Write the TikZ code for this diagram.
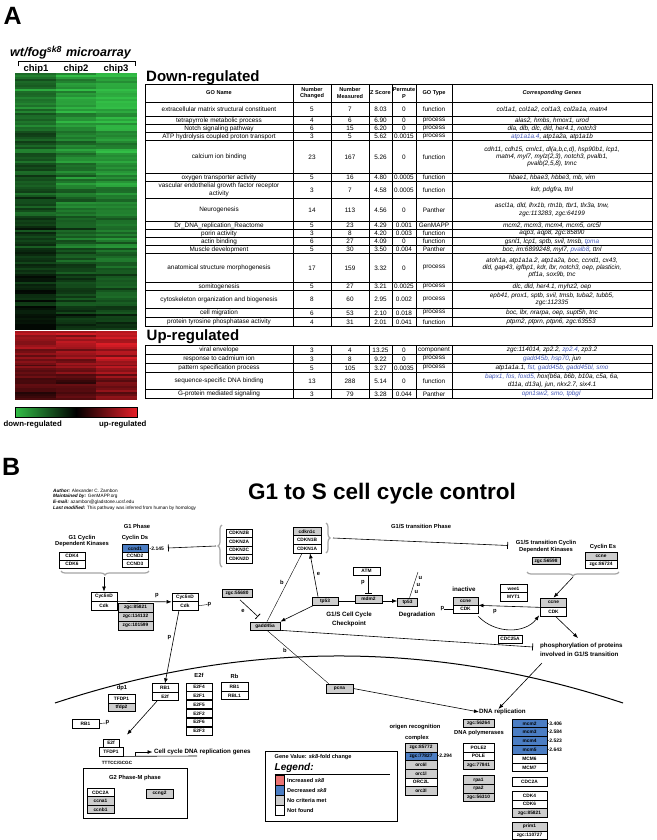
\documentclass[tikz,border=0pt]{standalone}
\usepackage{fontspec}
\setmainfont{Liberation Sans}
\usetikzlibrary{arrows.meta,decorations.pathreplacing,calc}
\definecolor{geneblue}{RGB}{70,90,185}
\definecolor{boxgray}{RGB}{205,205,205}
\definecolor{boxblue}{RGB}{75,125,195}
\definecolor{legred}{RGB}{235,115,115}
\definecolor{bracegray}{RGB}{165,165,165}
\definecolor{hgreen}{RGB}{50,190,70}
\definecolor{hred}{RGB}{230,30,40}
\tikzset{
  tcell/.style={inner sep=0pt, align=center, yshift=-0.4pt, font=\fontsize{6.4}{7.2}\selectfont},
  tgene/.style={inner sep=0pt, align=center, yshift=-0.4pt, font=\itshape\fontsize{6.4}{7.2}\selectfont},
  thead/.style={inner sep=0pt, align=center, font=\bfseries\fontsize{5.6}{6.4}\selectfont},
  tline/.style={line width=0.4pt},
  gbox/.style={draw, line width=0.7pt, inner sep=0pt, font=\bfseries\fontsize{4.8}{5}\selectfont},
  lbl/.style={inner sep=0pt, align=center, font=\bfseries\fontsize{5.8}{6.4}\selectfont},
  lblp/.style={inner sep=0pt, font=\bfseries\fontsize{5.8}{6}\selectfont},
  val/.style={inner sep=0pt, font=\bfseries\fontsize{5}{5.5}\selectfont},
  lgl/.style={inner sep=0pt, anchor=west, font=\bfseries\fontsize{5.6}{6}\selectfont},
  arr/.style={-{Latex[length=5pt,width=3.8pt]}, line width=0.6pt},
  inh/.style={-{Bar[width=7pt,line width=0.8pt]}, line width=0.6pt},
  brc/.style={decorate, decoration={brace, amplitude=4pt}, draw=bracegray, line width=1.2pt},
}
\newcommand{\genebox}[7]{\node[gbox, fill=#6, minimum width=#4pt, minimum height=#5pt] (#1) at (#2,#3) {#7};}
\begin{document}
\begin{tikzpicture}[x=1pt,y=-1pt]
\useasboundingbox (0,0) rectangle (656,840);
\fill[white] (0,0) rectangle (656,840);

% ================= PANEL A =================
\node[font=\bfseries\fontsize{25}{25}\selectfont, anchor=base west, inner sep=0] (labA) at (3.5,25) {A};
\node[font=\bfseries\itshape\fontsize{12.5}{13}\selectfont, anchor=base west, inner sep=0] (mtitle) at (10,56.5) {wt/fog\textsuperscript{sk8}\hspace{4pt}microarray};
\draw[line width=0.8pt] (18,66.5) -- (18,61.5) -- (135,61.5) -- (135,66.5);
\node[font=\bfseries\fontsize{9.5}{10}\selectfont, anchor=base, inner sep=0] (chip1) at (36,72) {chip1};
\node[font=\bfseries\fontsize{9.5}{10}\selectfont, anchor=base, inner sep=0] (chip2) at (76,72) {chip2};
\node[font=\bfseries\fontsize{9.5}{10}\selectfont, anchor=base, inner sep=0] (chip3) at (116,72) {chip3};

% heatmap green part
\pgfmathsetseed{1234}
\foreach \i in {0,...,127}{
  \pgfmathsetmacro{\hya}{73+\i*2.0078}
  \pgfmathsetmacro{\hyb}{\hya+2.3}
  \pgfmathsetmacro{\hbase}{0.92-0.6*\i/127+0.3*(rnd-0.5)}
  \pgfmathsetmacro{\hmA}{max(4,min(100,100*(\hbase-0.25+0.25*(rnd-0.5))))}
  \pgfmathsetmacro{\hmB}{max(4,min(100,100*(\hbase-0.05+0.25*(rnd-0.5))))}
  \pgfmathsetmacro{\hmC}{max(4,min(100,100*(\hbase+0.05+0.25*(rnd-0.5))))}
  \fill[hgreen!\hmA!black] (15,\hya) rectangle (55.5,\hyb);
  \fill[hgreen!\hmB!black] (55.5,\hya) rectangle (96,\hyb);
  \fill[hgreen!\hmC!black] (96,\hya) rectangle (136.5,\hyb);
}
% heatmap red part
\foreach \i in {0,...,34}{
  \pgfmathsetmacro{\hya}{331+\i*1.9714}
  \pgfmathsetmacro{\hyb}{min(\hya+2.3,400)}
  \pgfmathsetmacro{\hbase}{0.85-0.55*\i/34+0.3*(rnd-0.5)}
  \pgfmathsetmacro{\hmA}{max(4,min(100,100*(\hbase-0.1+0.25*(rnd-0.5))))}
  \pgfmathsetmacro{\hmB}{max(4,min(100,100*(\hbase-0.05+0.25*(rnd-0.5))))}
  \pgfmathsetmacro{\hmC}{max(4,min(100,100*(\hbase+0.08+0.25*(rnd-0.5))))}
  \fill[hred!\hmA!black] (15,\hya) rectangle (55.5,\hyb);
  \fill[hred!\hmB!black] (55.5,\hya) rectangle (96,\hyb);
  \fill[hred!\hmC!black] (96,\hya) rectangle (136.5,\hyb);
}
% colour bar
\shade[left color=hgreen, right color=black] (15,407) rectangle (76,417);
\shade[left color=black, right color=hred] (76,407) rectangle (137,417);
\draw[line width=0.6pt] (15,407) rectangle (137,417);
\node[font=\bfseries\fontsize{7.8}{8}\selectfont, anchor=base west, inner sep=0] (downlab) at (3.5,426.5) {down-regulated};
\node[font=\bfseries\fontsize{7.8}{8}\selectfont, anchor=base west, inner sep=0] (uplab) at (99,426.5) {up-regulated};

% ---- Down-regulated table ----
\node[font=\bfseries\fontsize{15}{15}\selectfont, anchor=base west, inner sep=0] (downhead) at (146,81.5) {Down-regulated};
\node[thead] (hgo) at (219,93) {GO Name};
\node[thead] (hnc) at (312,93) {Number\\Changed};
\node[thead] (hnm) at (350,93) {Number\\Measured};
\node[thead] (hz) at (380.5,93) {Z Score};
\node[thead] (hp) at (404,93) {Permute\\P};
\node[thead] (hty) at (434,93) {GO Type};
\node[thead, font=\bfseries\itshape\fontsize{5.6}{6.4}\selectfont] (hgn) at (552,93) {Corresponding Genes};
\draw[tline] (145,102) -- (652,102);
\foreach \ya/\yb/\go/\nc/\nm/\zs/\pp/\ty/\gn [count=\k] in {
102/116/{extracellular matrix structural constituent}/5/7/8.03/0/function/{col1a1, col1a2, col1a3, col2a1a, matn4},
116/124/{tetrapyrrole metabolic process}/4/6/6.90/0/process/{alas2, hmbs, hmox1, urod},
124/132/{Notch signaling pathway}/6/15/6.20/0/process/{dla, dlb, dlc, dld, her4.1, notch3},
132/140/{ATP hydrolysis coupled proton transport}/3/5/5.62/0.0015/process/{\textcolor{geneblue}{atp1a1a.4}, atp1a2a, atp1a1b},
140/173/{calcium ion binding}/23/167/5.26/0/function/{cdh11, cdh15, cmlc1, dl(a,b,c,d), hsp90b1, lcp1,\\matn4, myl7, mylz(2,3), notch3, pvalb1,\\pvalb(2,5,8), tnnc},
173/181/{oxygen transporter activity}/5/16/4.80/0.0005/function/{hbae1, hbae3, hbbe3, mb, vim},
181/198/{vascular endothelial growth factor receptor\\activity}/3/7/4.58/0.0005/function/{kdr, pdgfra, ttnl},
198/221/{Neurogenesis}/14/113/4.56/0/Panther/{ascl1a, dld, lhx1b, rtn1b, tbr1, tlx3a, tnw,\\zgc:113283, zgc:64199},
221/229/{Dr\_DNA\_replication\_Reactome}/5/23/4.29/0.001/GenMAPP/{mcm2, mcm3, mcm4, mcm5, orc5l},
229/237/{porin activity}/3/8/4.20/0.003/function/{aqp3, aqp8, zgc:85890},
237/245/{actin binding}/6/27/4.09/0/function/{gsnl1, lcp1, sptb, svil, tmsb, \textcolor{geneblue}{tpma}},
245/253/{Muscle development}/5/30/3.50/0.004/Panther/{boc, im:6899248, myl7, \textcolor{geneblue}{pvalb8}, ttnl},
253/282/{anatomical structure morphogenesis}/17/159/3.32/0/process/{atoh1a, atp1a1a.2, atp1a2a, boc, ccnd1, cx43,\\dld, gap43, igfbp1, kdr, lbr, notch3, oep, plasticin,\\ptf1a, sox9b, tnc},
282/290/{somitogenesis}/5/27/3.21/0.0025/process/{dlc, dld, her4.1, myhz2, oep},
290/308/{cytoskeleton organization and biogenesis}/8/60/2.95/0.002/process/{epb41, prox1, sptb, svil, tmsb, tuba2, tubb5,\\zgc:112335},
308/317/{cell migration}/6/53/2.10/0.018/process/{boc, lbr, nrarpa, oep, supt5h, tnc},
317/326/{protein tyrosine phosphatase activity}/4/31/2.01/0.041/function/{ptprn2, ptprn, ptpn6, zgc:63553}
}{
  \node[tcell] (dn\k-go) at (219,{(\ya+\yb)/2}) {\go};
  \node[tcell] (dn\k-nc) at (312,{(\ya+\yb)/2}) {\nc};
  \node[tcell] (dn\k-nm) at (350,{(\ya+\yb)/2}) {\nm};
  \node[tcell] (dn\k-z) at (380.5,{(\ya+\yb)/2}) {\zs};
  \node[tcell] (dn\k-p) at (404,{(\ya+\yb)/2}) {\pp};
  \node[tcell] (dn\k-ty) at (434,{(\ya+\yb)/2}) {\ty};
  \node[tgene] (dn\k-gn) at (552,{(\ya+\yb)/2}) {\gn};
  \draw[tline] (145,\yb) -- (652,\yb);
}
\foreach \x in {293,331,369,392,416,452} \draw[tline] (\x,84) -- (\x,326);
\draw[line width=0.9pt] (145,84) rectangle (652,326);

% ---- Up-regulated table ----
\node[font=\bfseries\fontsize{15}{15}\selectfont, anchor=base west, inner sep=0] (uphead) at (146.5,340.5) {Up-regulated};
\foreach \ya/\yb/\go/\nc/\nm/\zs/\pp/\ty/\gn [count=\k] in {
345/354/{viral envelope}/3/4/13.25/0/component/{zgc:114014, zp2.2, \textcolor{geneblue}{zp2.4}, zp3.2},
354/363/{response to cadmium ion}/3/8/9.22/0/process/{\textcolor{geneblue}{gadd45b, hsp70}, jun},
363/372/{pattern specification process}/5/105/3.27/0.0035/process/{atp1a1a.1, \textcolor{geneblue}{fst, gadd45b, gadd45bl, smo}},
372/389/{sequence-specific DNA binding}/13/288/5.14/0/function/{\textcolor{geneblue}{bapx1, fos, foxd5,} hox(b6a, b6b, b10a, c5a, 6a,\\d11a, d13a), jun, nkx2.7, six4.1},
389/398/{G-protein mediated signaling}/3/79/3.28/0.044/Panther/{\textcolor{geneblue}{opn1sw2, smo, tpbgl}}
}{
  \node[tcell] (up\k-go) at (219,{(\ya+\yb)/2}) {\go};
  \node[tcell] (up\k-nc) at (312,{(\ya+\yb)/2}) {\nc};
  \node[tcell] (up\k-nm) at (350,{(\ya+\yb)/2}) {\nm};
  \node[tcell] (up\k-z) at (380.5,{(\ya+\yb)/2}) {\zs};
  \node[tcell] (up\k-p) at (404,{(\ya+\yb)/2}) {\pp};
  \node[tcell] (up\k-ty) at (434,{(\ya+\yb)/2}) {\ty};
  \node[tgene] (up\k-gn) at (552,{(\ya+\yb)/2}) {\gn};
  \draw[tline] (145,\yb) -- (652,\yb);
}
\foreach \x in {293,331,369,392,416,452} \draw[tline] (\x,345) -- (\x,398);
\draw[line width=0.9pt] (145,345) rectangle (652,398);

% ================= PANEL B =================
\node[font=\bfseries\fontsize{25}{25}\selectfont, anchor=base west, inner sep=0] (labB) at (2,475) {B};
\node[anchor=north west, inner sep=0, align=left, font=\fontsize{4.7}{5.7}\selectfont] (author) at (53,488.5) {\textbf{\textit{Author:}} Alexander C. Zambon\\\textbf{\textit{Maintained by:}} GenMAPP.org\\\textbf{\textit{E-mail:}} azambon@gladstone.ucsf.edu\\\textbf{\textit{Last modified:}} This pathway was inferred from human by homology};
\node[font=\bfseries\fontsize{22.5}{23}\selectfont, anchor=base west, inner sep=0] (title) at (248,499) {G1 to S cell cycle control};

% G1 phase
\node[lbl] (g1phase) at (137,526) {G1 Phase};
\node[lbl] (g1cdk) at (82,541) {G1 Cyclin\\Dependent Kinases};
\node[lbl] (cycds) at (135,538) {Cyclin Ds};
\genebox{cdk4a}{72}{556}{26}{8}{white}{CDK4}
\genebox{cdk6a}{72}{564}{26}{8}{white}{CDK6}
\genebox{ccnd1}{135}{548.5}{26}{7.5}{boxblue}{ccnd1}
\genebox{ccnd2}{135}{556}{26}{7.5}{white}{CCND2}
\genebox{ccnd3}{135}{563.5}{26}{7.5}{white}{CCND3}
\node[val, anchor=west] (vccnd1) at (149.5,548.5) {-2.145};
\draw[brc] (149,571) -- (61,571);
\coordinate (g1tip) at (104,577);
\genebox{cycDa}{104}{596.5}{26}{9}{white}{CyclinD}
\genebox{cdka}{104}{605.5}{26}{9}{white}{Cdk}
\draw[arr] (g1tip) -- (cycDa.north);
\genebox{zgA}{135.5}{607.5}{35}{9}{boxgray}{zgc:85821}
\genebox{zgB}{135.5}{616.5}{35}{9}{boxgray}{zgc:114132}
\genebox{zgC}{135.5}{625.5}{35}{9}{boxgray}{zgc:101599}
\genebox{cycDb}{185}{597.25}{26}{8.5}{white}{CyclinD}
\genebox{cdkb}{185}{605.75}{26}{8.5}{white}{Cdk}
\draw[arr] (cycDa.south east) -- (cycDb.south west);
\node[lblp] (pA) at (157,595.5) {p};
\node[lblp] (pB) at (209.5,604.5) {p};
\draw (cdkb.east) -- (pB.west);

% CDKN2 group
\genebox{cdkn2b}{239}{533.25}{26}{8.5}{white}{CDKN2B}
\genebox{cdkn2a}{239}{541.75}{26}{8.5}{white}{CDKN2A}
\genebox{cdkn2c}{239}{550.25}{26}{8.5}{white}{CDKN2C}
\genebox{cdkn2d}{239}{558.75}{26}{8.5}{white}{CDKN2D}
\draw[brc] (222,567) -- (222,525);
\coordinate (c2tip) at (216,546);
\coordinate (ccbar) at (168,548);
\draw[inh] (c2tip) -- (ccbar);

% CDKN1 group
\genebox{cdkn1c}{307}{531.3}{28}{8.7}{boxgray}{cdkn1c}
\genebox{cdkn1b}{307}{540}{28}{8.7}{white}{CDKN1B}
\genebox{cdkn1a}{307}{548.7}{28}{8.7}{white}{CDKN1A}
\draw[brc] (326,523) -- (326,553);
\coordinate (c1tip) at (333,538);
\coordinate (g1sbar) at (508,545.5);
\draw[inh] (c1tip) -- (g1sbar);

% checkpoint
\genebox{zg55680}{237}{593.5}{30}{8}{boxgray}{zgc:55680}
\genebox{gadd}{265}{626}{30}{8}{boxgray}{gadd45a}
\genebox{tp53a}{325}{601}{26}{8}{boxgray}{tp53}
\genebox{mdm2}{368.5}{599}{27}{8}{boxgray}{mdm2}
\genebox{atm}{366.5}{571}{27}{8}{white}{ATM}
\genebox{tp53b}{407.5}{602}{20}{8}{boxgray}{tp53}
\draw[inh] ($(zg55680.south)+(3,2)$) -- ($(gadd.north)+(-7,-5)$);
\node[lblp] (eA) at (243,611) {e};
\draw[arr] ($(tp53a.north)+(-7,0)$) -- ($(cdkn1a.south)+(3,0)$);
\node[lblp] (eB) at (318.5,574) {e};
\draw ($(gadd.north)+(2,0)$) -- ($(cdkn1a.south)+(-5,0)$);
\node[lblp] (bA) at (282,582) {b};
\draw[arr] ($(tp53a.south west)+(2,0)$) -- (gadd.north east);
\coordinate (phosbar) at (533,647);
\draw[inh] (gadd.south east) -- (phosbar);
\draw (tp53a.east) -- (tp53a.east -| mdm2.west);
\draw[arr] ($(mdm2.east)+(0,2)$) -- ($(tp53b.west)+(0,-1)$);
\draw[inh] ($(atm.south)+(2,0)$) -- ($(mdm2.north)+(0,-0.5)$);
\node[lblp] (pM) at (363,583) {p};
\coordinate (ubtop) at (418,572);
\draw ($(tp53b.north)+(2,0)$) -- (ubtop);
\node[lblp] (u1) at (420.5,578) {u};
\node[lblp] (u2) at (418.5,585) {u};
\node[lblp] (u3) at (416.5,592) {u};
\node[lbl, font=\bfseries\fontsize{6.2}{9}\selectfont] (chkpt) at (349,619.5) {G1/S Cell Cycle\\Checkpoint};
\node[lbl, font=\bfseries\fontsize{6.2}{7}\selectfont] (degr) at (417,615) {Degradation};

% G1/S transition
\node[lbl] (g1sphase) at (421,526) {G1/S transition Phase};
\node[lbl] (g1scdk) at (546,546.5) {G1/S transition Cyclin\\Dependent Kinases};
\genebox{zg56598}{546}{561}{28}{7}{boxgray}{zgc:56598}
\node[lbl] (cycEs) at (603,547) {Cyclin Es};
\genebox{ccneE}{601}{556.5}{32}{8}{boxgray}{ccne}
\genebox{zg86724}{601}{564.5}{32}{8}{white}{zgc:86724}
\draw[brc] (619,572) -- (527,572);
\coordinate (g1stip) at (573,577);
\genebox{ccneA}{553.5}{602.5}{26}{9}{boxgray}{ccne}
\genebox{cdkA}{553.5}{611.5}{26}{9}{white}{CDK}
\draw[arr] (g1stip) -- (ccneA.north);
\node[lbl, font=\bfseries\fontsize{6.2}{7}\selectfont] (inactl) at (464,589) {inactive};
\genebox{ccneI}{465.5}{601}{25}{8}{boxgray}{ccne}
\genebox{cdkI}{465.5}{609}{25}{8}{white}{CDK}
\node[lblp] (pI) at (442.5,609) {p};
\draw (pI.east) -- (cdkI.west);
\genebox{wee1}{513.5}{588.5}{27}{8.5}{white}{wee1}
\genebox{myt1}{513.5}{597}{27}{8.5}{white}{MYT1}
\draw[arr] (ccneA.south west) -- (ccneI.south east);
\node[lblp] (pC) at (495,611.5) {p};
\draw[arr] ($(cdkI.south east)+(0,3)$) .. controls (495,634) and (525,634) .. ($(cdkA.south west)+(-1,-1)$);
\genebox{cdc25a}{510}{639}{24}{8}{white}{CDC25A}
\node[lbl, anchor=north west, align=left, font=\bfseries\fontsize{6.2}{9}\selectfont] (phos) at (540,643) {phosphorylation of proteins\\involved in G1/S transition};
\coordinate (phosin) at (578,638);
\draw[arr] ($(cdkA.south)+(2,0)$) -- (phosin);

% nucleus boundary
\draw[line width=1pt] (55,703) .. controls (244.3,640.3) and (433.7,640.3) .. (623,703);

\genebox{pcna}{339.5}{688.5}{27}{9}{boxgray}{pcna}
\draw ($(gadd.south)+(2,0)$) -- ($(pcna.north west)+(3,0)$);
\node[lblp] (bB) at (285,650) {b};
\node[lbl, anchor=west, font=\bfseries\fontsize{6.2}{7}\selectfont] (dnarep) at (479,712) {DNA replication};
\draw[arr] (pcna.east) -- (dnarep.west);
\coordinate (phosout) at (542,663);
\draw[arr] (phosout) -- ($(dnarep.north)+(-4,0)$);

% E2F / Rb
\node[lbl] (dp1l) at (122,688) {dp1};
\genebox{tfdp1}{121.5}{699}{27}{8.5}{white}{TFDP1}
\genebox{tfdp2}{121.5}{707.5}{27}{8.5}{boxgray}{tfdp2}
\genebox{rb1a}{165}{688}{26}{8.5}{white}{RB1}
\genebox{e2fa}{165}{696.5}{26}{8.5}{white}{E2f}
\draw[arr] ($(cdkb.south)+(-6,0)$) -- (rb1a.north);
\node[lblp] (pR) at (169.5,638) {p};
\node[lbl] (e2flab) at (199,675) {E2f};
\genebox{e2f4}{199}{687}{26}{8}{white}{E2F4}
\genebox{e2f1}{199}{695.8}{26}{8}{white}{E2F1}
\genebox{e2f5}{199}{704.6}{26}{8}{white}{E2F5}
\genebox{e2f2}{199}{713.4}{26}{8}{white}{E2F2}
\genebox{e2f6}{199}{722.2}{26}{8}{white}{E2F6}
\genebox{e2f3}{199}{731}{26}{8}{white}{E2F3}
\node[lbl] (rblab) at (234.5,676) {Rb};
\genebox{rb1b}{234.5}{687}{27}{8.5}{white}{RB1}
\genebox{rbl1}{234.5}{695.5}{27}{8.5}{white}{RBL1}
\genebox{rb1c}{85.5}{723.5}{27}{9}{white}{RB1}
\node[lblp] (prb) at (107.5,723) {p};
\draw (rb1c.east) -- (prb.west);
\genebox{e2fb}{111}{743}{16}{8}{white}{E2f}
\genebox{tfdp1b}{111}{751.75}{24}{8.5}{white}{TFDP1}
\draw[arr] ($(e2fa.south)+(-8,0)$) -- ($(e2fb.north)+(16,-4)$);
\node[font=\bfseries\fontsize{4.6}{5}\selectfont, inner sep=0] (tttcc) at (117,763) {TTTCC/GCGC};
\coordinate (lineEnd) at (197,756);
\draw[line width=0.6pt] (tfdp1b.south east) -- (lineEnd);
\node[lbl, anchor=west, font=\bfseries\fontsize{6.2}{7}\selectfont] (ccgenes) at (154,752) {Cell cycle DNA replication genes};
\coordinate (promstart) at (135,756);
\draw[arr, shorten >=1.5pt] (promstart) |- (ccgenes.west);

% G2 box
\node[draw, line width=0.8pt, minimum width=104pt, minimum height=50pt, inner sep=0] (g2box) at (135,793) {};
\node[lbl] (g2lab) at (135,778) {G2 Phase-M phase};
\genebox{cdc2a}{100.5}{792.5}{27}{8.5}{white}{CDC2A}
\genebox{ccna1}{100.5}{801}{27}{8.5}{boxgray}{ccna1}
\genebox{ccnb1}{100.5}{809.5}{27}{8.5}{boxgray}{ccnb1}
\genebox{ccng2}{159.5}{793.5}{27}{9}{boxgray}{ccng2}

% legend
\node[draw, line width=0.8pt, minimum width=132pt, minimum height=70pt, inner sep=0] (legbox) at (331,786) {};
\node[lgl] (genevalue) at (274.5,757.5) {Gene Value: \textit{sk8}-fold change};
\node[anchor=west, inner sep=0, font=\bfseries\itshape\fontsize{10}{10}\selectfont] (legend) at (274.5,767.5) {Legend:};
\coordinate (ulA) at (274.5,774);
\coordinate (ulB) at (390,774);
\draw[line width=0.9pt] (ulA) -- (ulB);
\node[draw, fill=legred, minimum size=9.5pt, inner sep=0, line width=0.6pt] (lsq1) at (280,780.5) {};
\node[draw, fill=boxblue, minimum size=9.5pt, inner sep=0, line width=0.6pt] (lsq2) at (280,790.5) {};
\node[draw, fill=boxgray, minimum size=9.5pt, inner sep=0, line width=0.6pt] (lsq3) at (280,800.5) {};
\node[draw, fill=white, minimum size=9.5pt, inner sep=0, line width=0.6pt] (lsq4) at (280,810.5) {};
\node[lgl] (ll1) at (287,780.5) {Increased \textit{sk8}};
\node[lgl] (ll2) at (287,790.5) {Decreased \textit{sk8}};
\node[lgl] (ll3) at (287,800.5) {No criteria met};
\node[lgl] (ll4) at (287,810.5) {Not found};

% DNA replication machinery
\node[lbl] (orclab) at (415,727) {origen recognition};
\node[lbl] (orclab2) at (417,738) {complex};
\genebox{orcA}{421}{747.5}{32}{8.7}{boxgray}{zgc:85772}
\genebox{orcB}{421}{756.2}{32}{8.7}{boxblue}{zgc:77827}
\genebox{orcC}{421}{764.9}{32}{8.7}{boxgray}{orc6l}
\genebox{orcD}{421}{773.6}{32}{8.7}{boxgray}{orc1l}
\genebox{orcE}{421}{782.3}{32}{8.7}{white}{ORC2L}
\genebox{orcF}{421}{791}{32}{8.7}{boxgray}{orc3l}
\node[val, anchor=west] (vorc) at (437.5,756.2) {-2.294};
\node[lbl] (dnapol) at (479,733) {DNA polymerases};
\genebox{zg56264}{478.5}{723.5}{31}{7.5}{boxgray}{zgc:56264}
\genebox{pole2}{478.5}{747.5}{31}{8.7}{white}{POLE2}
\genebox{pole}{478.5}{756.2}{31}{8.7}{white}{POLE}
\genebox{zg77841}{478.5}{764.9}{31}{8.7}{boxgray}{zgc:77841}
\genebox{rpa1}{478.5}{780}{31}{8.7}{boxgray}{rpa1}
\genebox{rpa2}{478.5}{788.7}{31}{8.7}{boxgray}{rpa2}
\genebox{zg56310}{478.5}{797.4}{31}{8.7}{boxgray}{zgc:56310}
\genebox{mcm2}{529.5}{723.4}{35}{8.8}{boxblue}{mcm2}
\genebox{mcm3}{529.5}{732.2}{35}{8.8}{boxblue}{mcm3}
\genebox{mcm4}{529.5}{741}{35}{8.8}{boxblue}{mcm4}
\genebox{mcm5}{529.5}{749.8}{35}{8.8}{boxblue}{mcm5}
\genebox{mcm6}{529.5}{758.6}{35}{8.8}{white}{MCM6}
\genebox{mcm7}{529.5}{767.4}{35}{8.8}{white}{MCM7}
\node[val, anchor=west] (vm2) at (547.5,723.4) {-3.406};
\node[val, anchor=west] (vm3) at (547.5,732.2) {-2.584};
\node[val, anchor=west] (vm4) at (547.5,741) {-2.523};
\node[val, anchor=west] (vm5) at (547.5,749.8) {-2.643};
\genebox{cdc2b}{529.5}{781.5}{35}{9}{white}{CDC2A}
\genebox{cdk4b}{529.5}{795.5}{35}{8.7}{white}{CDK4}
\genebox{cdk6b}{529.5}{804.2}{35}{8.7}{white}{CDK6}
\genebox{zg85821b}{529.5}{812.9}{35}{8.7}{boxgray}{zgc:85821}
\genebox{prim1}{529.5}{826.5}{35}{8.7}{boxgray}{prim1}
\genebox{zg110727}{529.5}{835.2}{35}{8.7}{white}{zgc:110727}
\end{tikzpicture}
\end{document}
